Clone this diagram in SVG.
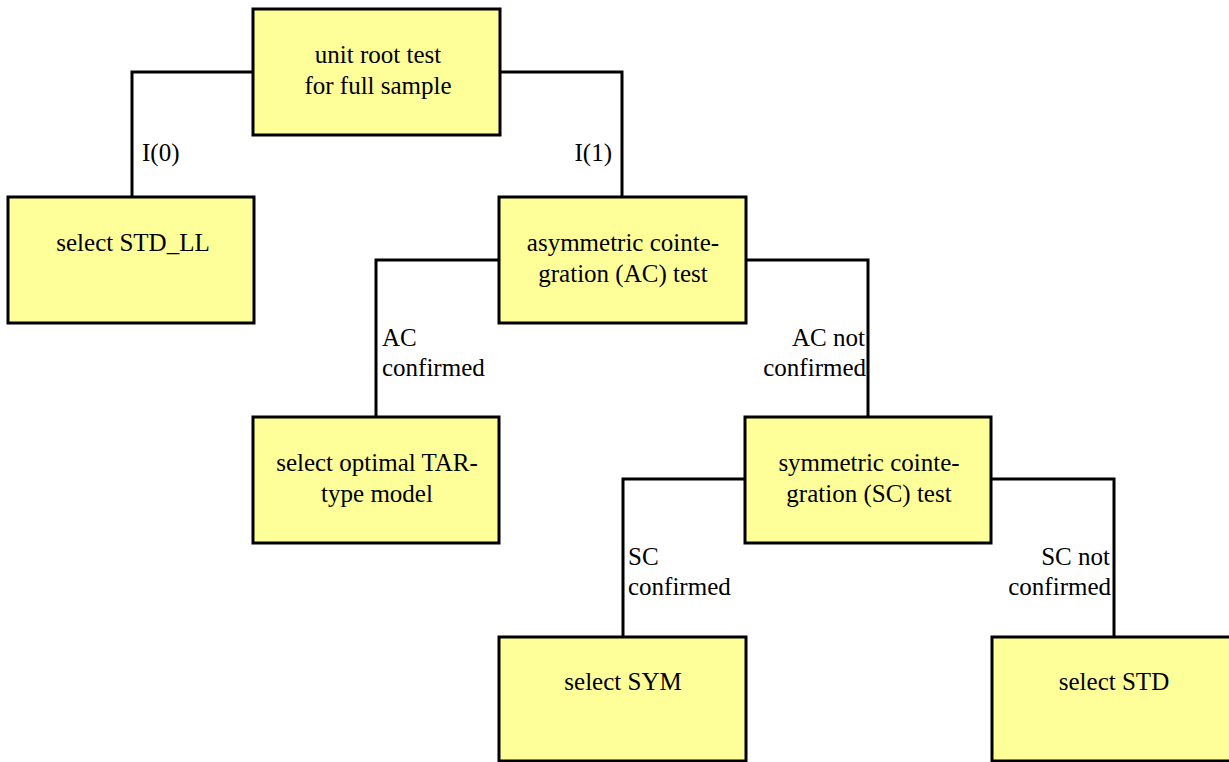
<svg xmlns="http://www.w3.org/2000/svg" width="1229" height="762" viewBox="0 0 1229 762" font-family="Liberation Serif, Times New Roman, serif">
<style>
.box{fill:#FFFF99;stroke:#000;stroke-width:3}
.t{font-size:25px;fill:#000}
.c{text-anchor:middle}
.e{text-anchor:end}
.conn{fill:none;stroke:#000;stroke-width:3;stroke-linejoin:miter;stroke-linecap:square}
</style>
<rect width="1229" height="762" fill="#fff"/>
<g id="connectors">
<polyline class="conn" points="253,72 132,72 132,197"/>
<polyline class="conn" points="500,72 622,72 622,197"/>
<polyline class="conn" points="499,260 376,260 376,417"/>
<polyline class="conn" points="746,260 868,260 868,417"/>
<polyline class="conn" points="745,479 623,479 623,637"/>
<polyline class="conn" points="991,479 1114,479 1114,637"/>
<text class="t" x="142" y="161">I(0)</text>
<text class="t e" x="612" y="161">I(1)</text>
<text class="t" x="382" y="346">AC</text>
<text class="t" x="382" y="376">confirmed</text>
<text class="t e" x="865" y="346">AC not</text>
<text class="t e" x="866" y="376">confirmed</text>
<text class="t" x="628" y="565">SC</text>
<text class="t" x="628" y="595">confirmed</text>
<text class="t e" x="1110" y="565">SC not</text>
<text class="t e" x="1111" y="595">confirmed</text>
</g>
<g id="root">
<rect class="box" x="253" y="9" width="247" height="126"/>
<text class="t c" x="378" y="63">unit root test</text>
<text class="t c" x="378" y="94">for full sample</text>
</g>
<g id="std_ll">
<rect class="box" x="8" y="197" width="246" height="126"/>
<text class="t c" x="133" y="251">select STD_LL</text>
</g>
<g id="ac_test">
<rect class="box" x="499" y="197" width="247" height="126"/>
<text class="t c" x="623" y="251">asymmetric cointe-</text>
<text class="t c" x="623" y="282">gration (AC) test</text>
</g>
<g id="tar">
<rect class="box" x="253" y="417" width="246" height="126"/>
<text class="t c" x="377" y="471">select optimal TAR-</text>
<text class="t c" x="377" y="502">type model</text>
</g>
<g id="sc_test">
<rect class="box" x="745" y="417" width="246" height="126"/>
<text class="t c" x="869" y="471">symmetric cointe-</text>
<text class="t c" x="869" y="502">gration (SC) test</text>
</g>
<g id="sym">
<rect class="box" x="499" y="637" width="247" height="124"/>
<text class="t c" x="623" y="690">select SYM</text>
</g>
<g id="std">
<rect class="box" x="992" y="637" width="247" height="124"/>
<text class="t c" x="1114" y="690">select STD</text>
</g>
</svg>
